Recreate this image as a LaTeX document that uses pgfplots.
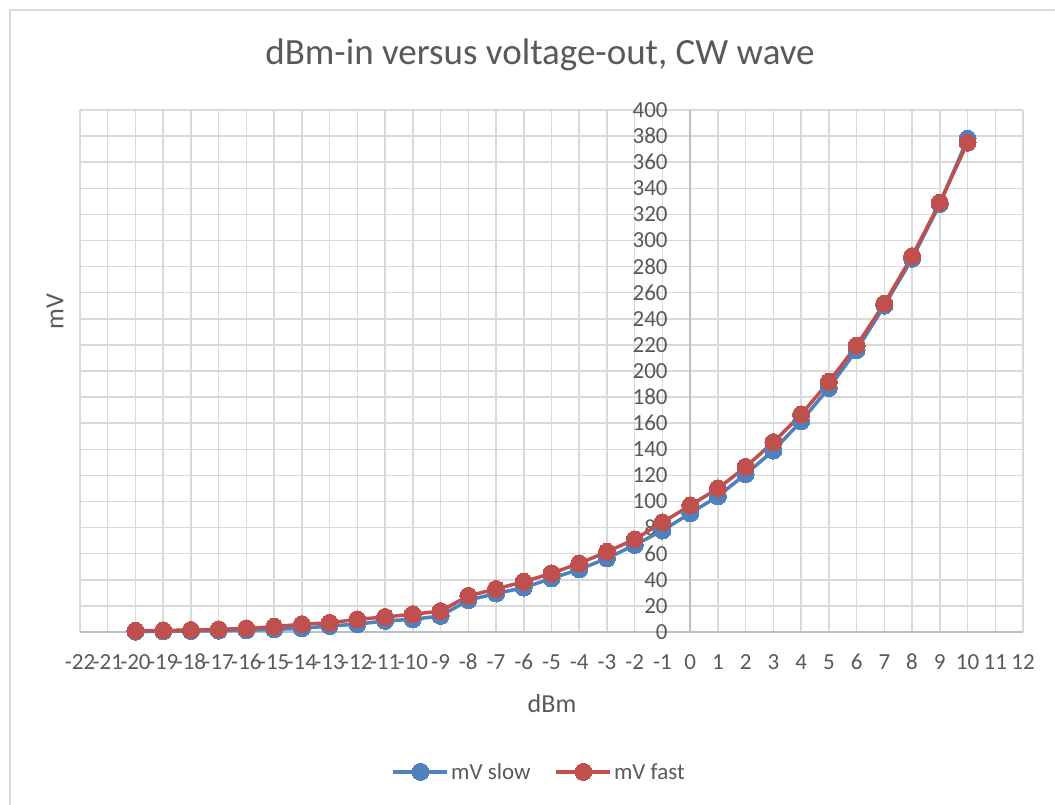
\documentclass[border=0pt]{standalone}
\usepackage{pgfplots}
\pgfplotsset{compat=1.18}
\usepackage{pgfplotstable}
\usepackage{fontspec}
\setmainfont{Carlito}
\definecolor{txt}{HTML}{595959}
\definecolor{gridc}{HTML}{D9D9D9}
\definecolor{axc}{HTML}{BFBFBF}
\definecolor{sblue}{HTML}{4F81BD}
\definecolor{sred}{HTML}{C0504D}
\pgfplotstableread{
x slow fast
-20 0.3 1.0
-19 0.5 1.2
-18 0.8 1.5
-17 1.0 2.0
-16 1.3 2.8
-15 2.0 4.0
-14 2.8 6.0
-13 4.6 7.0
-12 6.0 9.7
-11 8.5 11.5
-10 9.7 13.6
-9 12.3 16.0
-8 24.4 27.7
-7 29.5 33.0
-6 34.0 38.5
-5 41.0 45.0
-4 48.0 52.5
-3 56.4 61.5
-2 66.7 71.0
-1 77.7 84.0
0 91 97
1 104 110
2 121 126.5
3 139 145.5
4 161.5 166.7
5 187 191.7
6 216 219.5
7 250 251.7
8 286 288
9 328 329
10 378 375
}\datatable
\begin{document}
\begin{tikzpicture}[x=1pt,y=1pt]
\useasboundingbox (-80,-173) rectangle (975,632);
\fill[white] (-80,-173) rectangle (975,632);
\draw[gridc, line width=1.5pt] (-70,-200) -- (-70,622) -- (1000,622);
\begin{axis}[
  at={(0,0)}, anchor=south west,
  scale only axis, width=943pt, height=522pt,
  xmin=-22, xmax=12, ymin=0, ymax=400,
  enlargelimits=false,
  axis lines=middle,
  axis line style={-, axc, line width=1.5pt},
  hide obscured x ticks=false, hide obscured y ticks=false,
  xtick={-22,-21,...,12},
  ytick={0,20,...,400},
  grid=major,
  major grid style={gridc, line width=1.5pt},
  major tick length=0pt,
  /pgf/number format/assume math mode=true,
  ticklabel style={font=\fontsize{23}{27}\selectfont, text=txt},
  xticklabel style={anchor=base, yshift=-38pt, inner sep=0pt},
  yticklabel style={anchor=east, xshift=-19pt},
  legend style={at={(0.487,-0.268)}, anchor=center, draw=none, fill=none,
    font=\fontsize{23}{27}\selectfont, text=txt,
    /tikz/every even column/.append style={column sep=22pt}},
  legend columns=2,
  legend image code/.code={\draw[mark repeat=2, mark phase=2, #1] plot coordinates {(0pt,0pt) (27pt,0pt) (54pt,0pt)};},
  clip=false,
]
\addplot[sblue, line width=3.5pt, mark=*, mark size=8.5pt, mark options={fill=sblue, draw=sblue, line width=0pt}] table[x=x, y=slow] {\datatable};
\addlegendentry{mV slow}
\addplot[sred, line width=3.5pt, mark=*, mark size=8.5pt, mark options={fill=sred, draw=sred, line width=0pt}] table[x=x, y=fast] {\datatable};
\addlegendentry{mV fast}
\end{axis}
\node[anchor=base, text=txt, font=\fontsize{37}{44}\selectfont] at (460,567) {dBm-in versus voltage-out, CW wave};
\node[anchor=base, text=txt, font=\fontsize{26}{31}\selectfont] at (472,-81) {dBm};
\node[rotate=90, text=txt, font=\fontsize{26}{31}\selectfont] at (-25,320) {mV};
\end{tikzpicture}
\end{document}
